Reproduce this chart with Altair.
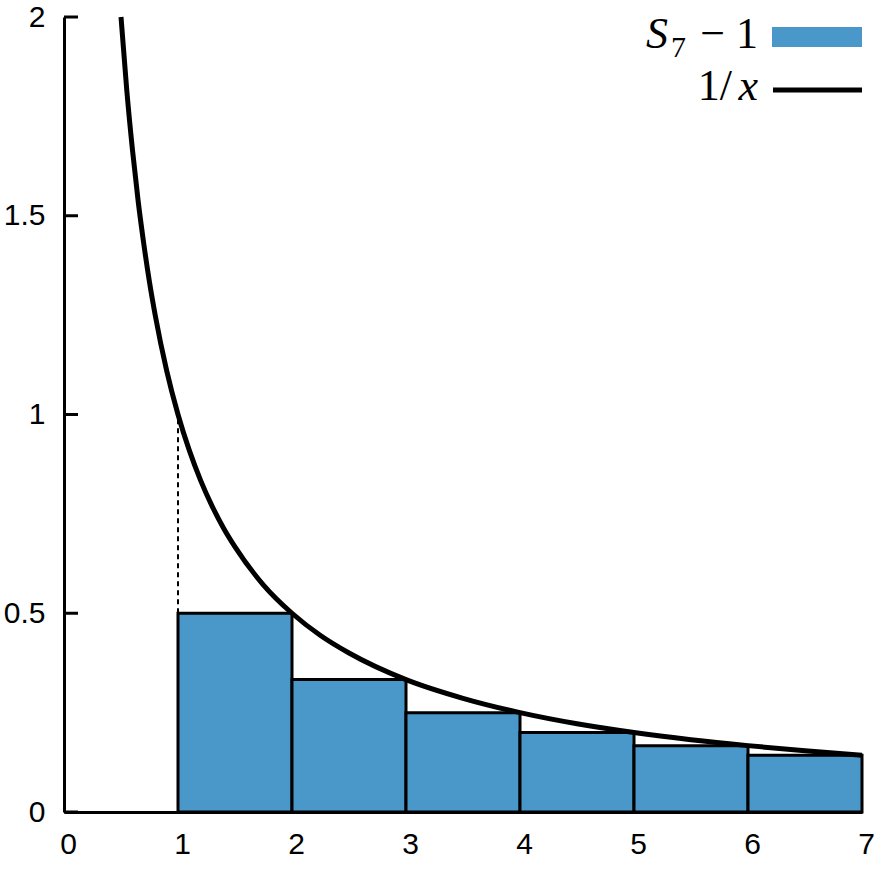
import altair as alt
import pandas as pd

# ---- data ----
bar_left = [1, 2, 3, 4, 5, 6]
bar_right = [2, 3, 4, 5, 6, 7]
bar_height = [0.5, 0.3333, 0.25, 0.2, 0.1667, 0.1429]

curve_x = [0.5, 0.55, 0.6, 0.65, 0.7, 0.75, 0.8, 0.9, 1.0, 1.1, 1.2, 1.3, 1.4, 1.5,
           1.75, 2.0, 2.25, 2.5, 3.0, 3.5, 4.0, 4.5, 5.0, 5.5, 6.0, 6.5, 7.0]
curve_y = [2.0, 1.818, 1.667, 1.538, 1.429, 1.333, 1.25, 1.111, 1.0, 0.909, 0.833, 0.769,
           0.714, 0.667, 0.571, 0.5, 0.444, 0.4, 0.333, 0.286, 0.25, 0.222, 0.2, 0.182,
           0.167, 0.154, 0.143]

dash_x = [1, 1]
dash_y = [0.5, 1.0]

x_ticks = [0, 1, 2, 3, 4, 5, 6, 7]
y_ticks = [0, 0.5, 1, 1.5, 2]

legend_bar = ["S", "7", "\u2212 1"]
legend_line = ["1/", "x"]

BLUE = "#4a98c9"
SERIF = "'Liberation Serif', 'DejaVu Serif', serif"
SANS = "'Liberation Sans', Arial, sans-serif"

xs = alt.Scale(domain=[0, 7], nice=False, zero=False)
ys = alt.Scale(domain=[0, 2], nice=False)

x_axis = alt.Axis(values=x_ticks, format="d", ticks=False, tickSize=0,
                  labelPadding=17, labelOffset=4, labelFont=SANS, labelFontSize=30,
                  labelColor="black", domainColor="black", domainWidth=3,
                  grid=False, labelFlush=False)
y_axis = alt.Axis(values=y_ticks, format="~g", ticks=False, tickSize=0,
                  labelPadding=19, labelFont=SANS, labelFontSize=30,
                  labelColor="black", domainColor="black", domainWidth=3,
                  grid=False, labelFlush=False)


def X(field):
    return alt.X(field, scale=xs, title=None, axis=x_axis)


def Y(field):
    return alt.Y(field, scale=ys, title=None, axis=y_axis)


bars_df = pd.DataFrame({"x": bar_left, "x2": bar_right, "y": bar_height})
curve_df = pd.DataFrame({"x": curve_x, "y": curve_y})
dash_df = pd.DataFrame({"x": dash_x, "y": dash_y})
ytick_df = pd.DataFrame({"y": y_ticks})
one = pd.DataFrame({"a": [0]})

bars = alt.Chart(bars_df).mark_rect(fill=BLUE, stroke="black", strokeWidth=3).encode(
    x=X("x:Q"), x2="x2:Q", y=Y("y:Q"), y2=alt.datum(0)
)

yticks = alt.Chart(ytick_df).mark_rule(color="black", strokeWidth=3).encode(
    x=alt.value(0), x2=alt.value(14), y=Y("y:Q")
)

dash = alt.Chart(dash_df).mark_line(color="black", strokeWidth=2, strokeDash=[5, 4]).encode(
    x=X("x:Q"), y=Y("y:Q")
)

curve = alt.Chart(curve_df).mark_line(color="black", strokeWidth=5, interpolate="monotone").encode(
    x=X("x:Q"), y=Y("y:Q"), order="x:Q"
)

leg_rect = alt.Chart(one).mark_rect(fill=BLUE).encode(
    x=alt.value(708), x2=alt.value(798), y=alt.value(10), y2=alt.value(30)
)
leg_line = alt.Chart(one).mark_rule(color="black", strokeWidth=5).encode(
    x=alt.value(709), x2=alt.value(798), y=alt.value(73)
)
t_S = alt.Chart(one).mark_text(font=SERIF, fontSize=44, fontStyle="italic", align="left",
                               baseline="alphabetic", color="black").encode(
    x=alt.value(582), y=alt.value(31), text=alt.value(legend_bar[0]))
t_7 = alt.Chart(one).mark_text(font=SERIF, fontSize=30, align="left",
                               baseline="alphabetic", color="black").encode(
    x=alt.value(607), y=alt.value(40), text=alt.value(legend_bar[1]))
t_m1 = alt.Chart(one).mark_text(font=SERIF, fontSize=44, align="right",
                                baseline="alphabetic", color="black").encode(
    x=alt.value(694), y=alt.value(31), text=alt.value(legend_bar[2]))
t_1s = alt.Chart(one).mark_text(font=SERIF, fontSize=44, align="right",
                                baseline="alphabetic", color="black").encode(
    x=alt.value(668), y=alt.value(83), text=alt.value(legend_line[0]))
t_x = alt.Chart(one).mark_text(font=SERIF, fontSize=44, fontStyle="italic", align="right",
                               baseline="alphabetic", color="black").encode(
    x=alt.value(694), y=alt.value(83), text=alt.value(legend_line[1]))

chart = alt.layer(
    bars, yticks, dash, curve, leg_rect, leg_line, t_S, t_7, t_m1, t_1s, t_x
).properties(
    width=798, height=795,
    autosize=alt.AutoSizeParams(type="none"),
    padding={"left": 64, "top": 17, "right": 13, "bottom": 62},
    background="white",
).configure_view(stroke=None)

chart.save("out.html", embed_options={"renderer": "svg", "actions": False})
